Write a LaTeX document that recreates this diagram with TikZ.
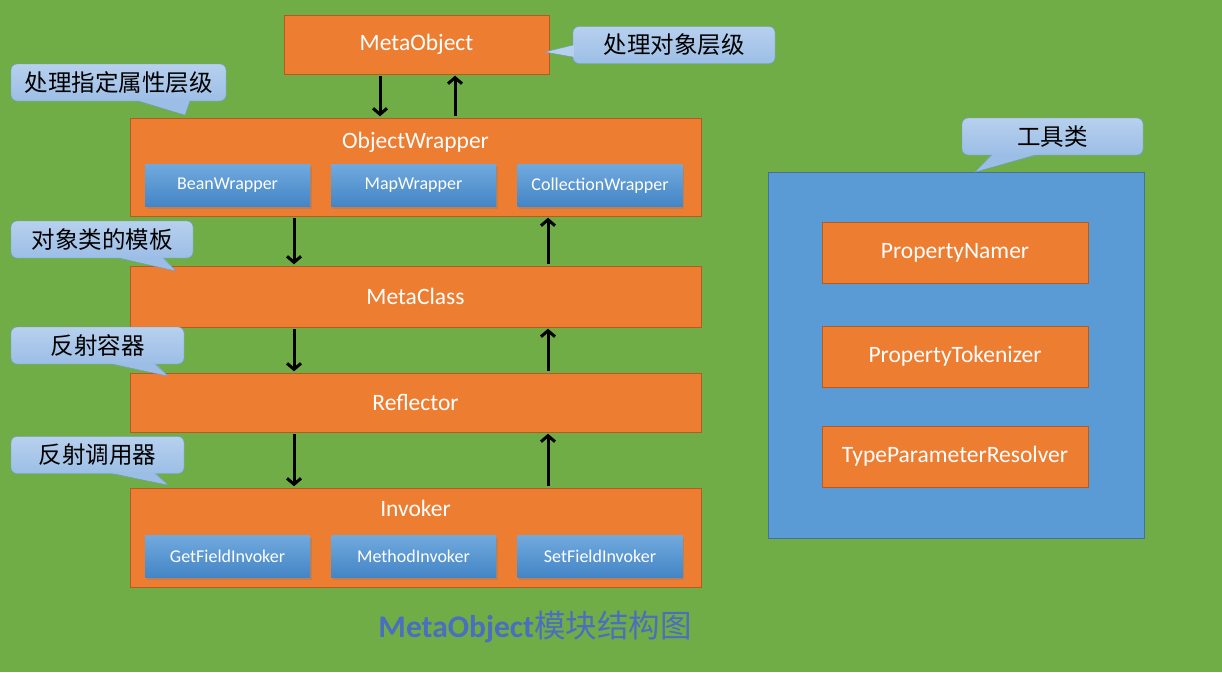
\documentclass[tikz,border=0pt]{standalone}
\usepackage{fontspec}
\setmainfont{Carlito}
\newfontfamily\cjk{Noto Sans CJK SC}
\usetikzlibrary{arrows.meta,shadows}

\definecolor{bggreen}{HTML}{70AD47}
\definecolor{boxorange}{HTML}{ED7D31}
\definecolor{boxline}{HTML}{B85A20}
\definecolor{toolblue}{HTML}{5B9BD5}
\definecolor{toolline}{HTML}{41719C}
\definecolor{btntop}{HTML}{70A9DD}
\definecolor{btnbot}{HTML}{4485C6}
\definecolor{notetop}{HTML}{B7D0EE}
\definecolor{notebot}{HTML}{9CBEE6}
\definecolor{noteline}{HTML}{6A9FD8}
\definecolor{titleblue}{HTML}{4A6EC0}

\begin{document}
\begin{tikzpicture}[x=1pt,y=-1pt,
  layer/.style={draw=boxline,fill=boxorange,text=white,inner sep=0pt,
    font=\fontsize{23.5}{28}\selectfont},
  btn/.style={top color=btntop,bottom color=btnbot,text=white,inner sep=0pt,
    minimum width=165pt,minimum height=42pt,font=\fontsize{18}{21}\selectfont,
    drop shadow={opacity=0.4,shadow xshift=1.5pt,shadow yshift=-2pt}},
  note/.style={draw=noteline,top color=notetop,bottom color=notebot,
    rounded corners=6pt,inner sep=0pt,minimum height=37pt,
    font=\cjk\fontsize{23.5}{28}\selectfont},
  arr/.style={-{Straight Barb[length=6pt,width=14pt]},line width=3pt,
    shorten <=2pt,shorten >=1.5pt}]

  \fill[bggreen] (0,0) rectangle (1222,672);
  \useasboundingbox (0,0) rectangle (1222,672);

  \node[layer,minimum width=265pt,minimum height=59pt] (mo) at (416.5,44.5) {MetaObject};

  \node[layer,minimum width=571pt,minimum height=98pt] (ow) at (415.5,167) {};
  \node[text=white,font=\fontsize{23.5}{28}\selectfont] (owt) at (415.5,142) {ObjectWrapper};
  \node[btn] (bw) at (227.5,185.5) {BeanWrapper};
  \node[btn] (mw) at (413.5,185.5) {MapWrapper};
  \node[btn] (cw) at (600,185.5) {CollectionWrapper};

  \node[layer,minimum width=571pt,minimum height=61pt] (mc) at (415.5,296.5) {MetaClass};
  \node[layer,minimum width=571pt,minimum height=59pt] (rf) at (415.5,402.5) {Reflector};

  \node[layer,minimum width=571pt,minimum height=99pt] (iv) at (415.5,537.5) {};
  \node[text=white,font=\fontsize{23.5}{28}\selectfont] (ivt) at (415.5,508) {Invoker};
  \node[btn] (gi) at (227.5,556.5) {GetFieldInvoker};
  \node[btn] (mi) at (413.5,556.5) {MethodInvoker};
  \node[btn] (si) at (600,556.5) {SetFieldInvoker};

  \node[draw=toolline,fill=toolblue,minimum width=376pt,minimum height=366pt] (tb) at (956,355) {};
  \node[layer,minimum width=266pt,minimum height=61pt] (pn) at (955,252.5) {PropertyNamer};
  \node[layer,minimum width=266pt,minimum height=61pt] (pt) at (955,356.5) {PropertyTokenizer};
  \node[layer,minimum width=266pt,minimum height=61pt] (tp) at (955,456.5) {TypeParameterResolver};

  \coordinate (xa) at (380,0);
  \coordinate (xb) at (455,0);
  \coordinate (xl) at (294,0);
  \coordinate (xr) at (548,0);
  \draw[arr] (mo.south -| xa) -- (ow.north -| xa);
  \draw[arr] (ow.north -| xb) -- (mo.south -| xb);
  \draw[arr] (ow.south -| xl) -- (mc.north -| xl);
  \draw[arr] (mc.north -| xr) -- (ow.south -| xr);
  \draw[arr] (mc.south -| xl) -- (rf.north -| xl);
  \draw[arr] (rf.north -| xr) -- (mc.south -| xr);
  \draw[arr] (rf.south -| xl) -- (iv.north -| xl);
  \draw[arr] (iv.north -| xr) -- (rf.south -| xr);

  \node[note,minimum width=202pt] (co1) at (674,45) {处理对象层级};
  \node[note,minimum width=215pt] (co2) at (118.5,82.5) {处理指定属性层级};
  \node[note,minimum width=181pt] (co3) at (1052.5,136.5) {工具类};
  \node[note,minimum width=182pt] (co4) at (102,239.5) {对象类的模板};
  \node[note,minimum width=173pt] (co5) at (97.5,345.5) {反射容器};
  \node[note,minimum width=173pt] (co6) at (97.5,455) {反射调用器};

  \coordinate (p1) at (545,52);
  \fill[notetop] ([xshift=1pt]co1.west) -- (p1) -- ([xshift=1pt,yshift=-12pt]co1.west) -- cycle;
  \draw[noteline] (co1.west) -- (p1) -- ([yshift=-12pt]co1.west);
  \foreach \n/\a/\b/\tx/\ty in {co2/18.5/71.5/185/115, co3/-60.5/-15.5/975/172,
      co4/15/61/176/271, co5/12.5/57.5/168/376, co6/12.5/57.5/168/485} {
    \fill[notebot] ([xshift=\a pt,yshift=1pt]\n.south) -- (\tx,\ty) -- ([xshift=\b pt,yshift=1pt]\n.south) -- cycle;
    \draw[noteline] ([xshift=\a pt]\n.south) -- (\tx,\ty) -- ([xshift=\b pt]\n.south);
  }

  \node[anchor=base,text=titleblue] (title) at (535,637)
    {\fontsize{31.5}{36}\selectfont\textbf{MetaObject}\cjk 模块结构图};
\end{tikzpicture}
\end{document}
